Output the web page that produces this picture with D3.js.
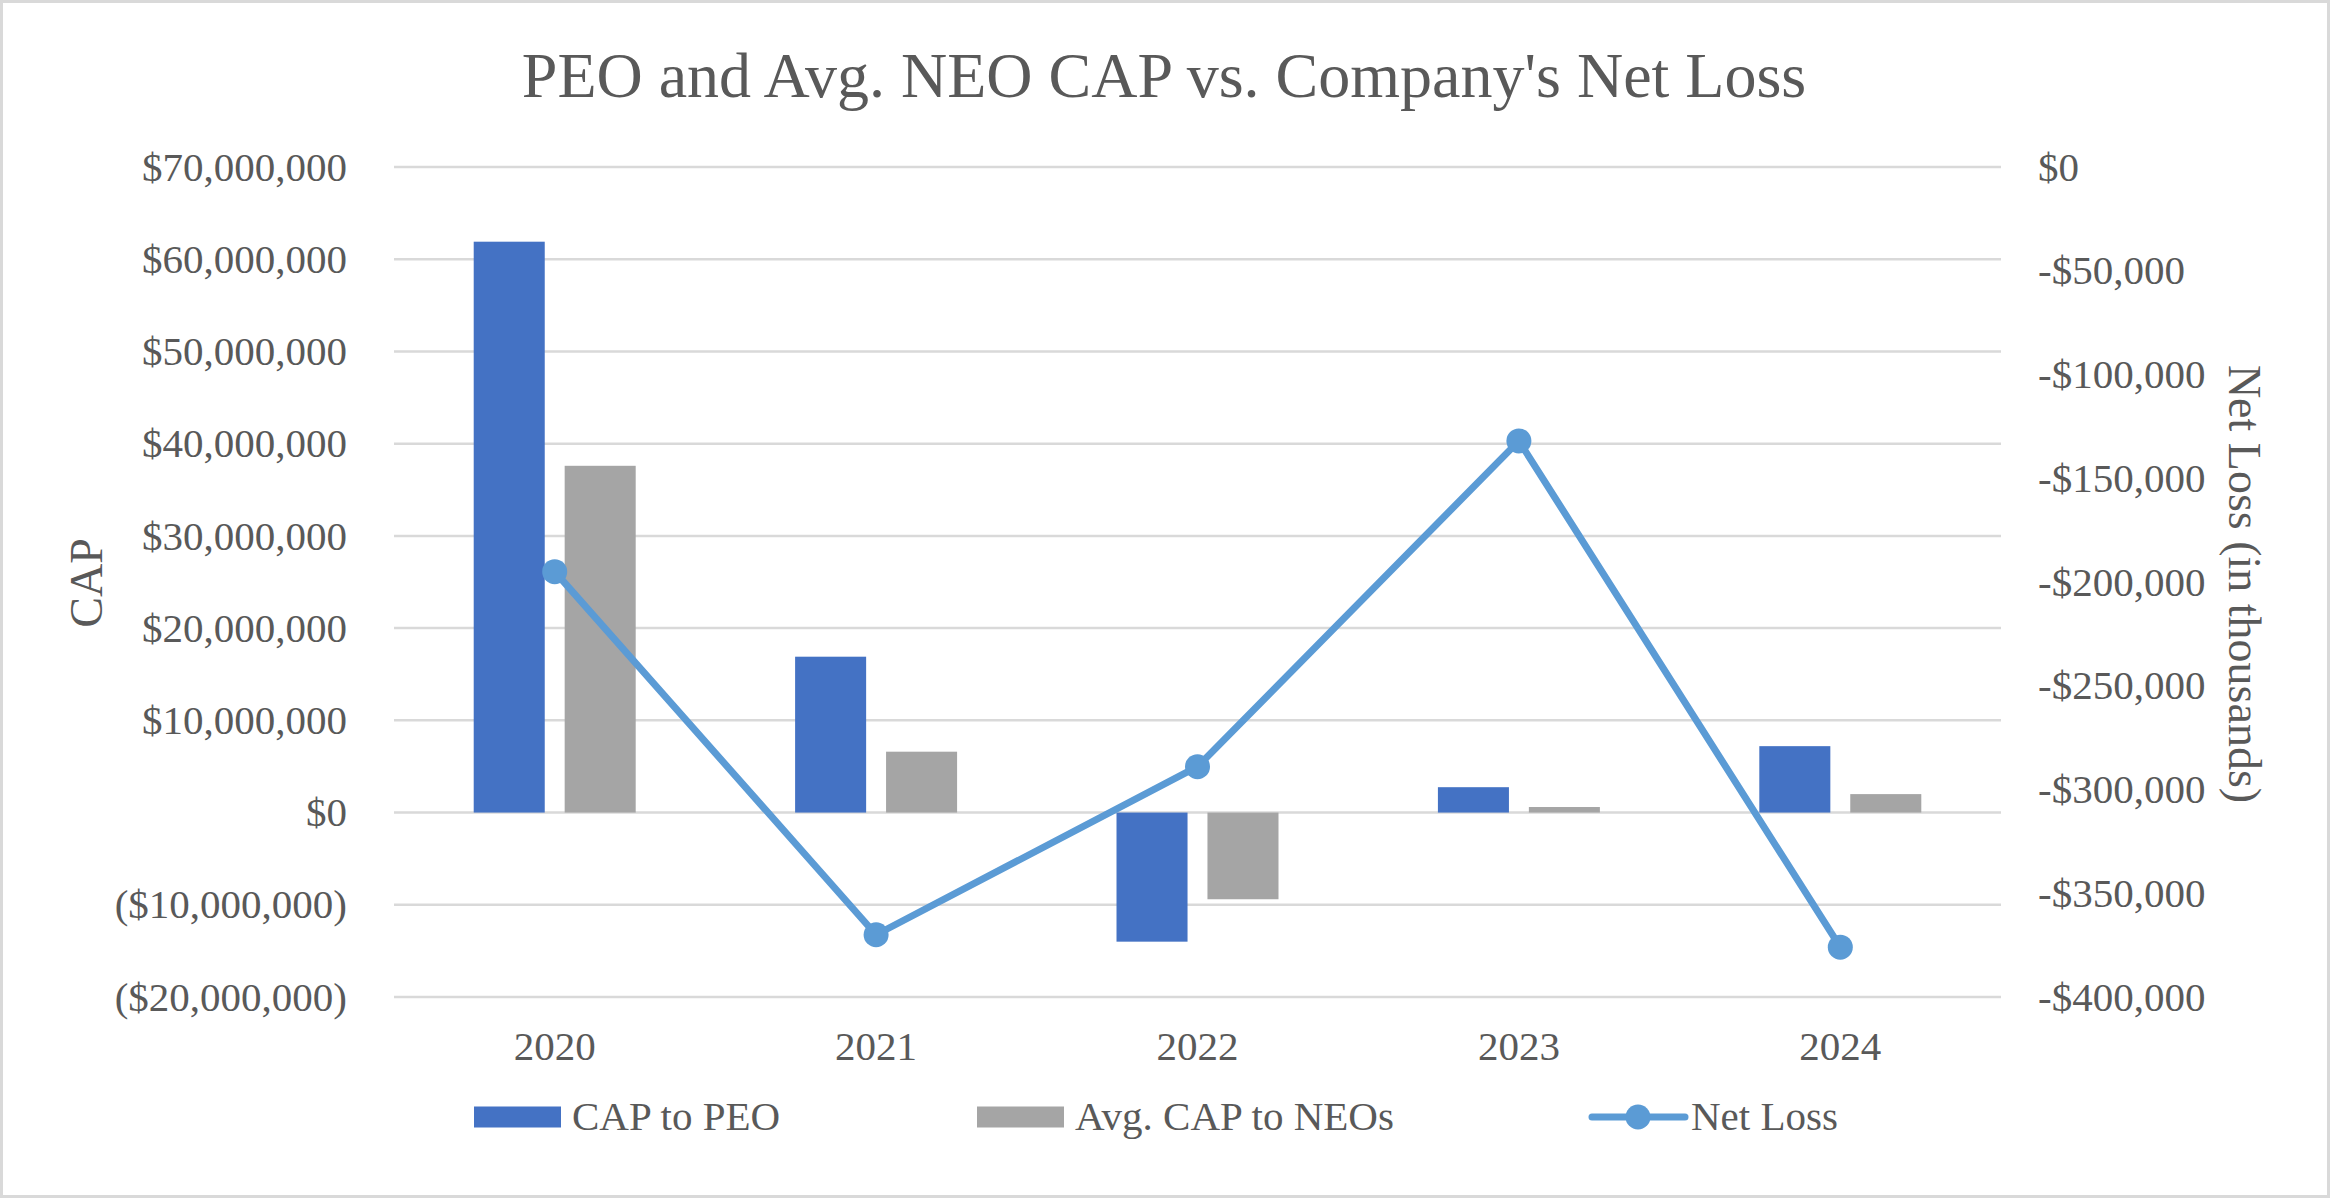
<!DOCTYPE html>
<html>
<head>
<meta charset="utf-8">
<script src="https://cdn.jsdelivr.net/npm/d3@7"></script>
<style>
    body { margin: 0; background: #fff; }
    svg { display: block; }
    text { font-family: "Liberation Serif", "Times New Roman", serif; fill: #595959; }
</style>
</head>
<body>
<div class="chart"></div>
<script>
const years = ['2020', '2021', '2022', '2023', '2024'];
const capToPeo = [61900000, 16900000, -14000000, 2750000, 7200000];
const avgCapToNeos = [37600000, 6600000, -9400000, 600000, 2000000];
const netLoss = [-195000, -370000, -289000, -132000, -376000];

const leftTicks = [70000000, 60000000, 50000000, 40000000, 30000000, 20000000, 10000000, 0, -10000000, -20000000];
const rightTicks = [0, -50000, -100000, -150000, -200000, -250000, -300000, -350000, -400000];
const legendLabels = ['CAP to PEO', 'Avg. CAP to NEOs', 'Net Loss'];

const settings = {
    width: 2330,
    height: 1198,
    left: 394,
    right: 2001,
    top: 167,
    bottom: 997,
    blue: '#4472C4',
    gray: '#A5A5A5',
    line: '#5B9BD5',
    grid: '#D9D9D9'
};

const svg = d3.select('.chart')
    .append('svg')
    .attr('width', settings.width)
    .attr('height', settings.height);

svg.append('rect')
    .attr('x', 1.5).attr('y', 1.5)
    .attr('width', settings.width - 3).attr('height', settings.height - 3)
    .attr('fill', '#fff')
    .attr('stroke', settings.grid)
    .attr('stroke-width', 3);

const x = d3.scaleBand()
    .domain(years)
    .range([settings.left, settings.right]);

const yLeft = d3.scaleLinear()
    .domain([-20000000, 70000000])
    .range([settings.bottom, settings.top]);

const yRight = d3.scaleLinear()
    .domain([-400000, 0])
    .range([settings.bottom, settings.top]);

const fmtNum = d3.format(',');
const fmtLeft = v => v < 0 ? '($' + fmtNum(-v) + ')' : '$' + fmtNum(v);
const fmtRight = v => v < 0 ? '-$' + fmtNum(-v) : '$' + fmtNum(v);

// gridlines
svg.append('g')
    .selectAll('line')
    .data(leftTicks)
    .enter()
    .append('line')
    .attr('x1', settings.left)
    .attr('x2', settings.right)
    .attr('y1', d => yLeft(d))
    .attr('y2', d => yLeft(d))
    .attr('stroke', settings.grid)
    .attr('stroke-width', 2.5);

// axes
const leftAxis = svg.append('g')
    .attr('transform', `translate(${settings.left},0)`)
    .call(d3.axisLeft(yLeft).tickValues(leftTicks).tickFormat(fmtLeft).tickSize(0).tickPadding(47));

const rightAxis = svg.append('g')
    .attr('transform', `translate(${settings.right},0)`)
    .call(d3.axisRight(yRight).tickValues(rightTicks).tickFormat(fmtRight).tickSize(0).tickPadding(37));

const bottomAxis = svg.append('g')
    .attr('transform', `translate(0,${settings.bottom})`)
    .call(d3.axisBottom(x).tickSize(0).tickPadding(34));

[leftAxis, rightAxis, bottomAxis].forEach(a => {
    a.select('.domain').remove();
    a.selectAll('text')
        .attr('font-family', '"Liberation Serif", "Times New Roman", serif')
        .attr('font-size', 41)
        .attr('fill', '#595959');
});
bottomAxis.selectAll('text').attr('dy', '0.71em');

// bars
const bw = x.bandwidth();
const barW = bw * 0.221;
const gap = bw * 0.062;
const center = d => x(d) + bw / 2;

svg.append('g')
    .selectAll('rect')
    .data(years)
    .enter()
    .append('rect')
    .attr('x', d => center(d) - gap / 2 - barW)
    .attr('y', (d, i) => Math.min(yLeft(capToPeo[i]), yLeft(0)))
    .attr('width', barW)
    .attr('height', (d, i) => Math.abs(yLeft(capToPeo[i]) - yLeft(0)))
    .attr('fill', settings.blue);

svg.append('g')
    .selectAll('rect')
    .data(years)
    .enter()
    .append('rect')
    .attr('x', d => center(d) + gap / 2)
    .attr('y', (d, i) => Math.min(yLeft(avgCapToNeos[i]), yLeft(0)))
    .attr('width', barW)
    .attr('height', (d, i) => Math.abs(yLeft(avgCapToNeos[i]) - yLeft(0)))
    .attr('fill', settings.gray);

// net loss line
const line = d3.line()
    .x((d, i) => center(years[i]))
    .y(d => yRight(d));

svg.append('path')
    .datum(netLoss)
    .attr('d', line)
    .attr('fill', 'none')
    .attr('stroke', settings.line)
    .attr('stroke-width', 7)
    .attr('stroke-linejoin', 'round');

svg.append('g')
    .selectAll('circle')
    .data(netLoss)
    .enter()
    .append('circle')
    .attr('cx', (d, i) => center(years[i]))
    .attr('cy', d => yRight(d))
    .attr('r', 12.5)
    .attr('fill', settings.line);

// titles
svg.append('text')
    .attr('x', 1164)
    .attr('y', 97)
    .attr('text-anchor', 'middle')
    .attr('font-size', 64)
    .text("PEO and Avg. NEO CAP vs. Company's Net Loss");

svg.append('text')
    .attr('transform', 'translate(102,583) rotate(-90)')
    .attr('text-anchor', 'middle')
    .attr('font-size', 46)
    .text('CAP');

svg.append('text')
    .attr('transform', 'translate(2229,584) rotate(90)')
    .attr('text-anchor', 'middle')
    .attr('font-size', 46)
    .text('Net Loss (in thousands)');

// legend
const legend = svg.append('g');
const legendY = 1117;

legend.append('rect')
    .attr('x', 474).attr('y', legendY - 10.5)
    .attr('width', 87).attr('height', 21)
    .attr('fill', settings.blue);
legend.append('text')
    .attr('x', 572).attr('y', 1130)
    .attr('font-size', 41)
    .text(legendLabels[0]);

legend.append('rect')
    .attr('x', 977).attr('y', legendY - 10.5)
    .attr('width', 87).attr('height', 21)
    .attr('fill', settings.gray);
legend.append('text')
    .attr('x', 1075).attr('y', 1130)
    .attr('font-size', 41)
    .text(legendLabels[1]);

legend.append('line')
    .attr('x1', 1592).attr('x2', 1685)
    .attr('y1', legendY).attr('y2', legendY)
    .attr('stroke', settings.line)
    .attr('stroke-width', 7)
    .attr('stroke-linecap', 'round');
legend.append('circle')
    .attr('cx', 1638).attr('cy', legendY)
    .attr('r', 12.5)
    .attr('fill', settings.line);
legend.append('text')
    .attr('x', 1691).attr('y', 1130)
    .attr('font-size', 41)
    .text(legendLabels[2]);
</script>
</body>
</html>
